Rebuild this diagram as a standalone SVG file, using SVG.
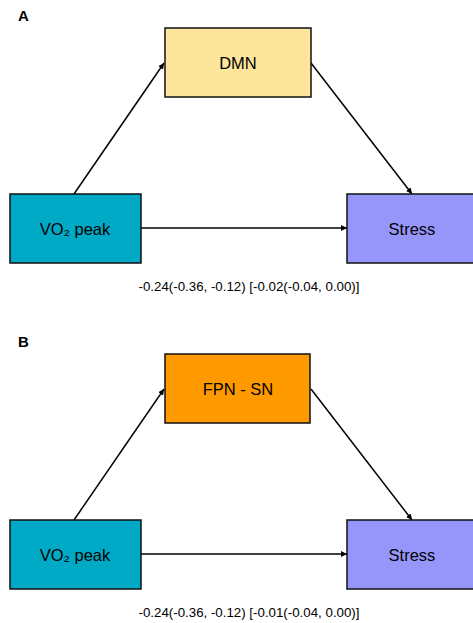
<svg xmlns="http://www.w3.org/2000/svg" width="473" height="623" viewBox="0 0 473 623">
<defs>
<marker id="ah" viewBox="0 0 10 10" refX="10" refY="5" markerWidth="6" markerHeight="6" markerUnits="userSpaceOnUse" orient="auto">
<path d="M0,0 L10,5 L0,10 z" fill="#000"/>
</marker>
<style>
.box{stroke:#111;stroke-width:1.5}
.lbl{font-family:"Liberation Sans",Arial,sans-serif;font-size:16.5px;text-anchor:middle;fill:#000}
.cap{font-family:"Liberation Sans",Arial,sans-serif;font-size:13.3px;text-anchor:middle;fill:#000}
.pan{font-family:"Liberation Sans",Arial,sans-serif;font-size:15px;font-weight:bold;fill:#000}
.con{stroke:#000;stroke-width:1.5;fill:none;marker-end:url(#ah)}
</style>
</defs>
<rect width="473" height="623" fill="#fff"/>
<text class="pan" x="18" y="21">A</text>
<text class="pan" x="18" y="347">B</text>
<g id="connectors">
<line class="con" x1="74" y1="194" x2="164" y2="63"/>
<line class="con" x1="311" y1="63" x2="412" y2="194"/>
<line class="con" x1="141" y1="228" x2="347" y2="228"/>
<line class="con" x1="74" y1="520" x2="164" y2="389"/>
<line class="con" x1="311" y1="389" x2="412" y2="520"/>
<line class="con" x1="141" y1="554" x2="347" y2="554"/>
</g>
<g id="dmn"><rect class="box" x="165" y="28" width="146" height="69" fill="#FDE59C"/><text class="lbl" x="238" y="69">DMN</text></g>
<g id="vo2a"><rect class="box" x="10" y="194" width="131" height="69" fill="#00A9C5"/><text class="lbl" x="75" y="235">VO₂ peak</text></g>
<g id="stressa"><rect class="box" x="347" y="194" width="135" height="69" fill="#9696FA"/><text class="lbl" x="412" y="235">Stress</text></g>
<text class="cap" x="249" y="291">-0.24(-0.36, -0.12) [-0.02(-0.04, 0.00)]</text>
<g id="fpnsn"><rect class="box" x="165" y="354" width="145" height="69" fill="#FF9900"/><text class="lbl" x="238" y="395">FPN - SN</text></g>
<g id="vo2b"><rect class="box" x="10" y="520" width="131" height="69" fill="#00A9C5"/><text class="lbl" x="75" y="561">VO₂ peak</text></g>
<g id="stressb"><rect class="box" x="347" y="520" width="135" height="69" fill="#9696FA"/><text class="lbl" x="412" y="561">Stress</text></g>
<text class="cap" x="249" y="617">-0.24(-0.36, -0.12) [-0.01(-0.04, 0.00)]</text>
</svg>
